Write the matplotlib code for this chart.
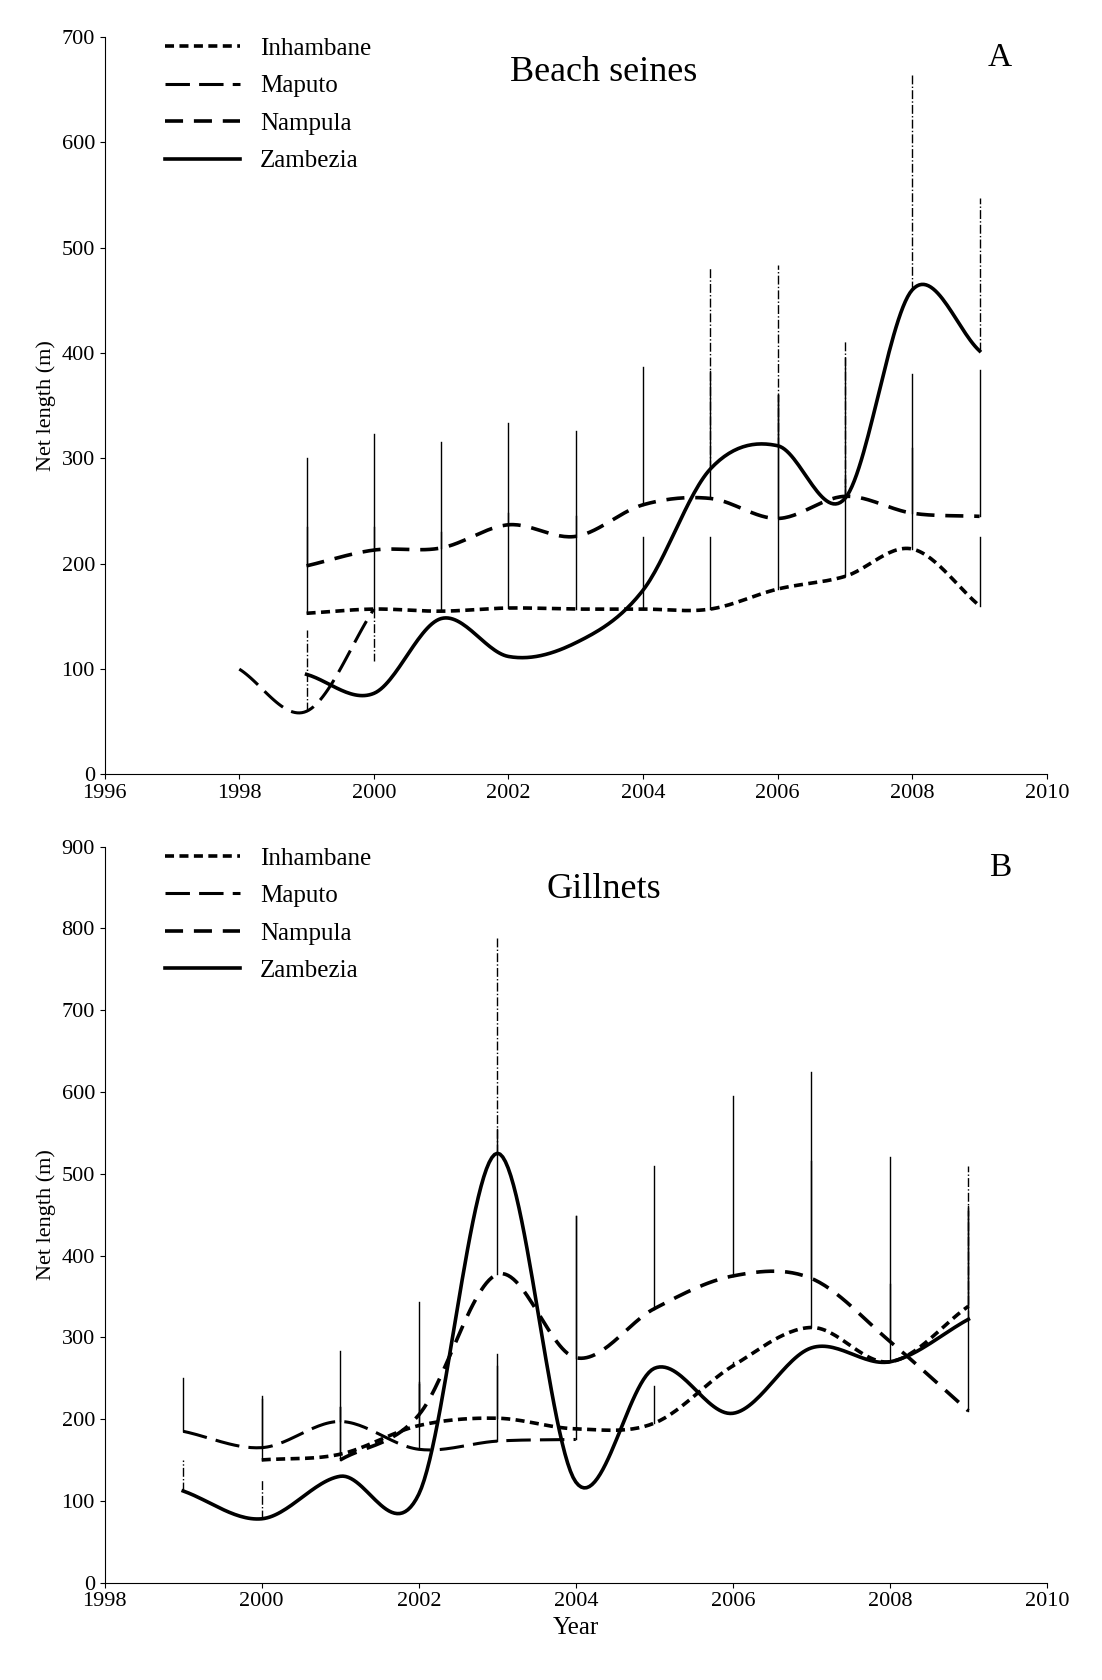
import numpy as np
import matplotlib.pyplot as plt

plt.rcParams['font.family'] = ['Liberation Serif', 'DejaVu Serif']

# ----------- Panel A: Beach seines ----------- #
a_inh_x = [1999, 2000, 2001, 2002, 2003, 2004, 2005, 2006, 2007, 2008, 2009]
a_inh_y = [153, 157, 155, 158, 157, 157, 157, 176, 188, 214, 160]
a_inh_err = [235, 235, 230, 248, 245, 225, 225, 360, 280, 310, 225]
a_map_x = [1998, 1999, 2000]
a_map_y = [100, 60, 157]
a_map_err = [None, 137, 108]
a_nam_x = [1999, 2000, 2001, 2002, 2003, 2004, 2005, 2006, 2007, 2008, 2009]
a_nam_y = [198, 213, 215, 237, 226, 256, 262, 243, 264, 248, 245]
a_nam_err = [300, 323, 316, 334, 326, 387, 383, 360, 395, 380, 384]
a_zam_x = [1999, 2000, 2001, 2002, 2003, 2004, 2005, 2006, 2007, 2008, 2009]
a_zam_y = [95, 77, 148, 112, 125, 175, 290, 312, 262, 460, 402]
a_zam_err = [None, None, None, None, None, None, 482, 484, 411, 664, 547]

# ----------- Panel B: Gillnets ----------- #
b_inh_x = [2000, 2001, 2002, 2003, 2004, 2005, 2006, 2007, 2008, 2009]
b_inh_y = [150, 157, 192, 201, 188, 195, 265, 312, 270, 338]
b_inh_err = [228, 215, 243, 280, 190, 240, 270, 515, 365, 455]
b_map_x = [1999, 2000, 2001, 2002, 2003, 2004]
b_map_y = [185, 165, 197, 163, 173, 175]
b_map_err = [250, 225, 283, 245, 265, 448]
b_nam_x = [2001, 2002, 2003, 2004, 2005, 2006, 2007, 2008, 2009]
b_nam_y = [150, 205, 377, 275, 335, 375, 372, 295, 210]
b_nam_err = [215, 343, 555, 448, 510, 595, 625, 520, 460]
b_zam_x = [1999, 2000, 2001, 2002, 2003, 2004, 2005, 2006, 2007, 2008, 2009]
b_zam_y = [112, 78, 130, 108, 525, 123, 262, 207, 287, 270, 322]
b_zam_err = [150, 125, None, None, 790, None, None, None, None, None, 510]


def smooth(x, y, n=30):
    # Catmull-Rom, like Excel's smoothed lines
    x = np.asarray(x, float); y = np.asarray(y, float)
    px = np.concatenate([[2 * x[0] - x[1]], x, [2 * x[-1] - x[-2]]])
    py = np.concatenate([[2 * y[0] - y[1]], y, [2 * y[-1] - y[-2]]])
    xs, ys = [], []
    t = np.linspace(0, 1, n)
    for i in range(1, len(px) - 2):
        for p, out in ((px, xs), (py, ys)):
            p0, p1, p2, p3 = p[i - 1], p[i], p[i + 1], p[i + 2]
            out.extend(0.5 * (2 * p1 + (-p0 + p2) * t + (2 * p0 - 5 * p1 + 4 * p2 - p3) * t**2
                              + (-p0 + 3 * p1 - 3 * p2 + p3) * t**3))
    return xs, ys


styles = {
    'Inhambane': dict(linestyle=(0, (2.5, 1.5)), linewidth=2.6),
    'Maputo': dict(linestyle=(0, (8, 3)), linewidth=2.2),
    'Nampula': dict(linestyle=(0, (5, 3)), linewidth=2.6),
    'Zambezia': dict(linestyle='-', linewidth=2.6),
}


def draw(ax, series):
    for name, x, y, err, estyle in series:
        xs, ys = smooth(x, y)
        ax.plot(xs, ys, color='black', label=name, **styles[name])
        for xi, yi, e in zip(x, y, err):
            if e is not None:
                ax.plot([xi, xi], [yi, e], color='black', linewidth=1.0, linestyle=estyle)


fig = plt.figure(figsize=(11.02, 16.8), dpi=100)

axA = fig.add_axes([0.095, 0.539, 0.855, 0.439])
draw(axA, [
    ('Inhambane', a_inh_x, a_inh_y, a_inh_err, '-'),
    ('Maputo', a_map_x, a_map_y, a_map_err, '-.'),
    ('Nampula', a_nam_x, a_nam_y, a_nam_err, '-'),
    ('Zambezia', a_zam_x, a_zam_y, a_zam_err, '-.'),
])
axA.set_xlim(1996, 2010)
axA.set_ylim(0, 700)
axA.set_xticks(range(1996, 2011, 2))
axA.set_yticks(range(0, 701, 100))
axA.set_ylabel('Net length (m)', fontsize=16)
axA.text(0.53, 0.94, 'Beach seines', transform=axA.transAxes, fontsize=26, ha='center')
axA.text(0.95, 0.96, 'A', transform=axA.transAxes, fontsize=24, ha='center')

axB = fig.add_axes([0.095, 0.058, 0.855, 0.438])
draw(axB, [
    ('Inhambane', b_inh_x, b_inh_y, b_inh_err, '-'),
    ('Maputo', b_map_x, b_map_y, b_map_err, '-'),
    ('Nampula', b_nam_x, b_nam_y, b_nam_err, '-'),
    ('Zambezia', b_zam_x, b_zam_y, b_zam_err, '-.'),
])
axB.set_xlim(1998, 2010)
axB.set_ylim(0, 900)
axB.set_xticks(range(1998, 2011, 2))
axB.set_yticks(range(0, 901, 100))
axB.set_ylabel('Net length (m)', fontsize=16)
axB.set_xlabel('Year', fontsize=18)
axB.text(0.53, 0.93, 'Gillnets', transform=axB.transAxes, fontsize=26, ha='center')
axB.text(0.95, 0.96, 'B', transform=axB.transAxes, fontsize=24, ha='center')

for ax in (axA, axB):
    for s in ('top', 'right'):
        ax.spines[s].set_visible(False)
    ax.tick_params(labelsize=16, direction='out')
    ax.legend(loc='upper left', frameon=False, fontsize=18, handlelength=3,
              bbox_to_anchor=(0.04, 1.03), labelspacing=0.6)

fig.savefig('out.png', dpi=100, facecolor='white')
